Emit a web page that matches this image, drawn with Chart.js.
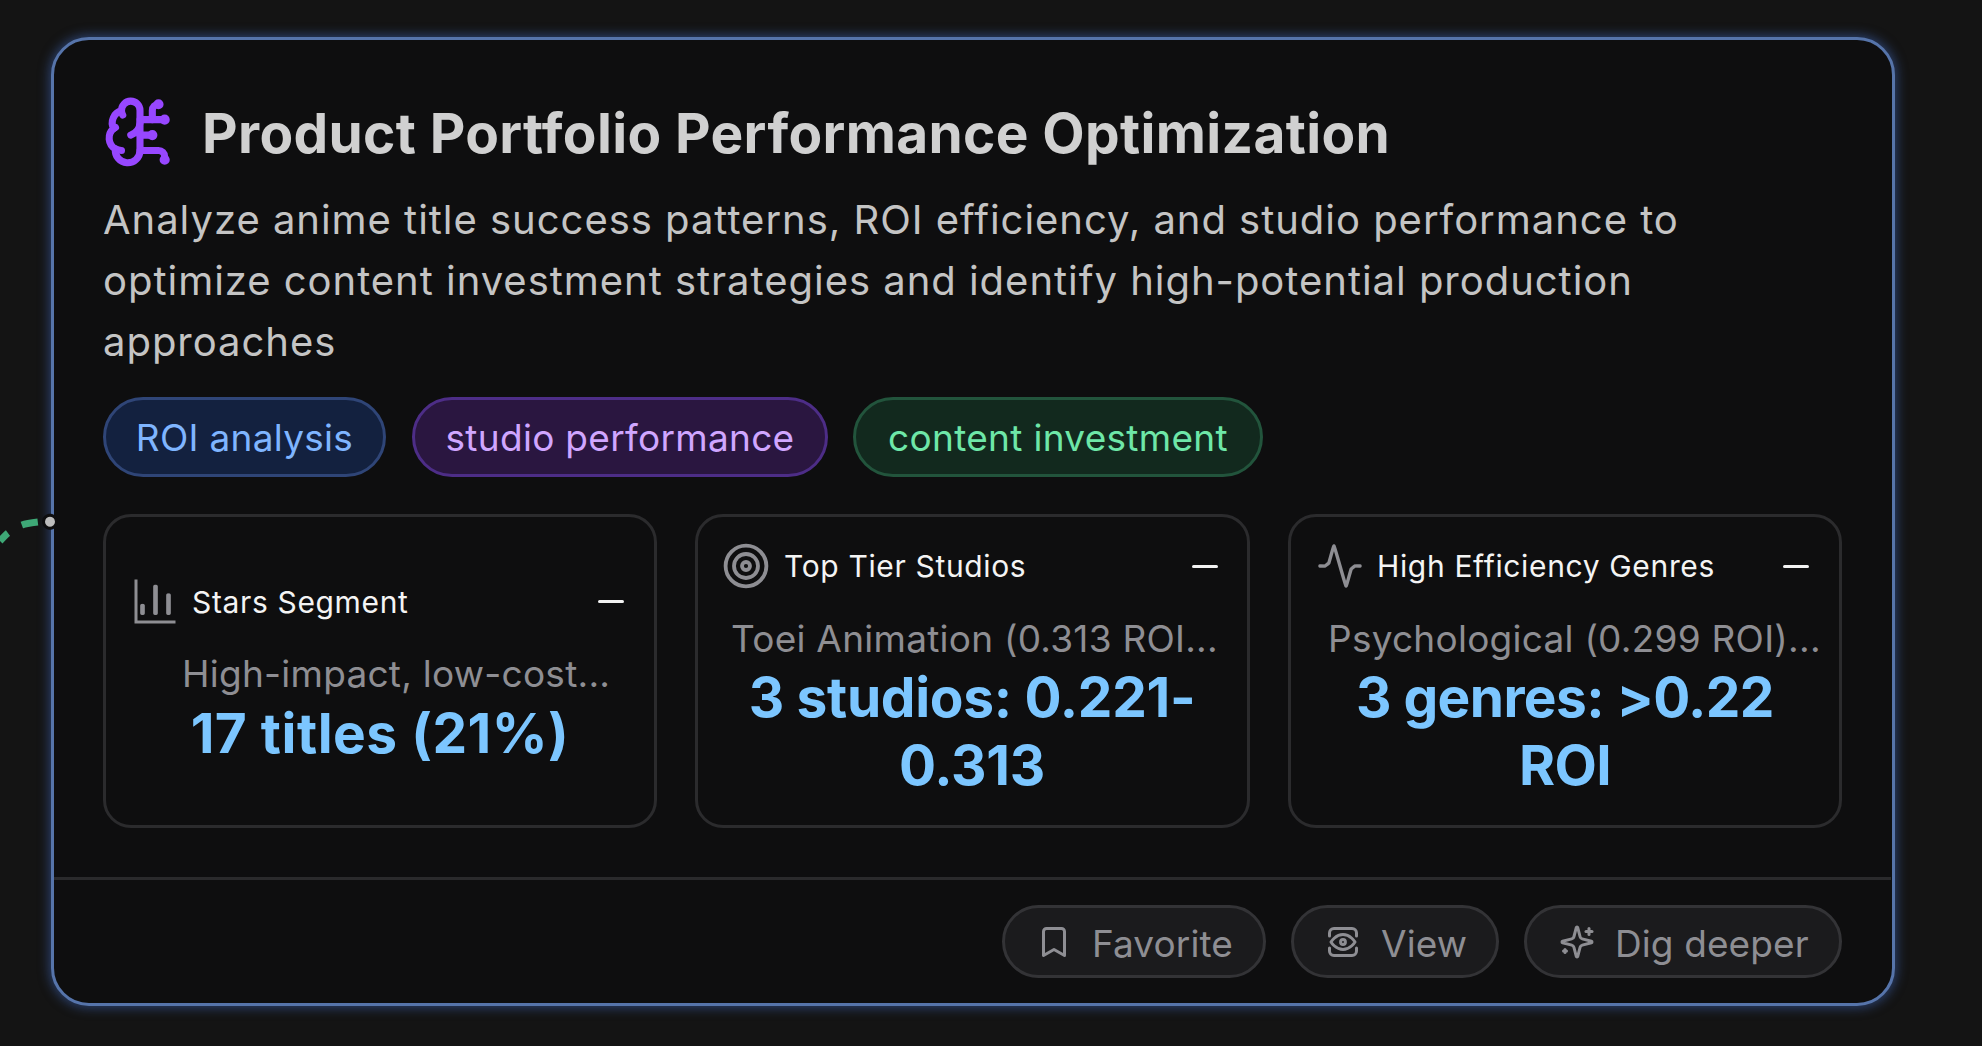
<!DOCTYPE html>
<html><head><meta charset="utf-8">
<script src="https://cdn.jsdelivr.net/npm/chart.js@4"></script>
<style>
html,body{margin:0;padding:0;width:1982px;height:1046px;background:#141414;overflow:hidden;font-family:Inter,sans-serif}
.a{position:absolute;white-space:nowrap}
#card{left:51px;top:37px;width:1844px;height:969px;box-sizing:border-box;border:3.5px solid #5674aa;border-radius:38px;background:#0e0e0f;box-shadow:0 0 11px 2px rgba(62,100,180,.55)}
#title{left:202px;top:100px;font-size:55px;line-height:66px;font-weight:700;color:#d0d0d0;letter-spacing:.35px}
#desc{left:103px;top:189px;width:1700px;font-size:40px;line-height:61px;color:#c4c4c4;white-space:pre-line;letter-spacing:.97px}
.tag{top:397px;height:80px;box-sizing:border-box;border-radius:40px;border:3px solid;font-size:37px;letter-spacing:.3px;display:flex;align-items:center;justify-content:center}
.kpi{top:514px;height:314px;box-sizing:border-box;border:3px solid #2b2b2d;border-radius:28px}
.kt{font-size:30px;line-height:36px;color:#f4f4f4;letter-spacing:.65px}
.kn{font-size:37px;line-height:46px;color:#8e8e93;letter-spacing:.25px}
.kv{font-size:55px;line-height:68px;font-weight:700;color:#7cc6ff;text-align:center;white-space:normal;width:490px}
.dash{width:26px;height:3px;background:#f2f2f2;border-radius:2px}
.btn{top:905px;height:73px;box-sizing:border-box;border:3px solid #333336;border-radius:37px;background:#1b1b1d}
.bt{top:921px;font-size:37px;line-height:46px;color:#8e8e93;letter-spacing:.1px}
svg.i{position:absolute;fill:none;stroke-linecap:round;stroke-linejoin:round}
canvas{position:absolute;display:block}
</style></head><body>
<div id="card" class="a"></div>
<svg class="i" style="left:103px;top:95px;stroke:#9747ff;stroke-width:2.3" width="74" height="74" viewBox="0 0 24 24"><path d="M12 5a3 3 0 1 0-5.997.125 4 4 0 0 0-2.526 5.77 4 4 0 0 0 .556 6.588A4 4 0 1 0 12 18Z"/><path d="M9 13a4.5 4.5 0 0 0 3-4"/><path d="M6.003 5.125A3 3 0 0 0 6.401 6.5"/><path d="M3.477 10.896a4 4 0 0 1 .585-.396"/><path d="M6 18a4 4 0 0 1-1.967-.516"/><path d="M12 13h4"/><path d="M12 18h6a2 2 0 0 1 2 2v1"/><path d="M12 8h8"/><path d="M16 8V5a2 2 0 0 1 2-2"/><circle cx="16" cy="13" r=".5"/><circle cx="18" cy="3" r=".5"/><circle cx="20" cy="21" r=".5"/><circle cx="20" cy="8" r=".5"/></svg>
<div id="title" class="a"></div>
<div id="desc" class="a"></div>
<div id="tag0" class="a tag" style="left:103px;width:283px;background:#13213f;border-color:#2f4577;color:#7fb5ff"></div>
<div id="tag1" class="a tag" style="left:412px;width:416px;background:#2a1640;border-color:#4d2d87;color:#d0a6ff"></div>
<div id="tag2" class="a tag" style="left:853px;width:410px;background:#12291e;border-color:#22543c;color:#6ee7a8"></div>

<div class="a kpi" style="left:103px;width:554px"></div>
<div class="a kpi" style="left:695px;width:555px"></div>
<div class="a kpi" style="left:1288px;width:554px"></div>

<canvas id="barIcon" style="left:130px;top:576px" width="50" height="50"></canvas>
<div id="kt0" class="a kt" style="left:192px;top:584px"></div>
<div class="a dash" style="left:598px;top:600px"></div>
<div id="kn0" class="a kn" style="left:182px;top:651px"></div>
<div id="kv0" class="a kv" style="left:135px;top:699px;letter-spacing:.5px"></div>

<svg class="i" style="left:722px;top:542px;stroke:#8e8e93;stroke-width:1.9" width="48" height="48" viewBox="0 0 24 24"><circle cx="12" cy="12" r="10.2"/><circle cx="12" cy="12" r="6"/><circle cx="12" cy="12" r="2"/></svg>
<div id="kt1" class="a kt" style="left:784px;top:548px"></div>
<div class="a dash" style="left:1192px;top:565px"></div>
<div id="kn1" class="a kn" style="left:731px;top:616px"></div>
<div id="kv1" class="a kv" style="left:727px;top:663px;letter-spacing:-.3px"></div>

<canvas id="pulseIcon" style="left:1312px;top:538px" width="56" height="56"></canvas>
<div id="kt2" class="a kt" style="left:1377px;top:548px"></div>
<div class="a dash" style="left:1783px;top:565px"></div>
<div id="kn2" class="a kn" style="left:1328px;top:616px"></div>
<div id="kv2" class="a kv" style="left:1320px;top:663px;letter-spacing:-.6px"></div>

<div class="a" style="left:54px;top:877px;width:1837px;height:3px;background:#2a2a2c"></div>

<div class="a btn" style="left:1002px;width:264px"></div>
<div class="a btn" style="left:1291px;width:208px"></div>
<div class="a btn" style="left:1524px;width:318px"></div>
<svg class="i" style="left:1035.5px;top:924px;stroke:#8e8e93;stroke-width:2" width="36" height="36" viewBox="0 0 24 24"><path d="m19 21-7-4-7 4V5a2 2 0 0 1 2-2h10a2 2 0 0 1 2 2v16z"/></svg>
<svg class="i" style="left:1325px;top:924px;stroke:#8e8e93;stroke-width:2" width="36" height="36" viewBox="0 0 24 24"><path d="M3 8V6a3 3 0 0 1 3-3h12a3 3 0 0 1 3 3v2"/><path d="M3 16v2a3 3 0 0 0 3 3h12a3 3 0 0 0 3-3v-2"/><path d="M4 12s3-5 8-5 8 5 8 5-3 5-8 5-8-5-8-5z"/><circle cx="12" cy="12" r="1.6"/></svg>
<svg class="i" style="left:1559px;top:924px;stroke:#8e8e93;stroke-width:2" width="36" height="36" viewBox="0 0 24 24"><path d="M9.937 15.5A2 2 0 0 0 8.5 14.063l-6.135-1.582a.5.5 0 0 1 0-.962L8.5 9.936A2 2 0 0 0 9.937 8.5l1.582-6.135a.5.5 0 0 1 .963 0L14.063 8.5A2 2 0 0 0 15.5 9.937l6.135 1.581a.5.5 0 0 1 0 .964L15.5 14.063a2 2 0 0 0-1.437 1.437l-1.582 6.135a.5.5 0 0 1-.963 0z"/><path d="M20 3v4"/><path d="M22 5h-4"/><path d="M4 17v2"/><path d="M5 18H3"/></svg>
<div id="bt0" class="a bt" style="left:1092px"></div>
<div id="bt1" class="a bt" style="left:1381px"></div>
<div id="bt2" class="a bt" style="left:1615px"></div>

<canvas id="edge" style="left:0;top:491px" width="70" height="70"></canvas>

<script>
// Text content
const chartTitle = "Product Portfolio Performance Optimization";
const chartDescription = "Analyze anime title success patterns, ROI efficiency, and studio performance to\noptimize content investment strategies and identify high-potential production\napproaches";
const tagLabels = ["ROI analysis", "studio performance", "content investment"];
const kpiTitles = ["Stars Segment", "Top Tier Studios", "High Efficiency Genres"];
const kpiNotes = ["High-impact, low-cost...", "Toei Animation (0.313 ROI...", "Psychological (0.299 ROI)..."];
const kpiValues = ["17 titles (21%)", "3 studios: 0.221-0.313", "3 genres: >0.22 ROI"];
const actionLabels = ["Favorite", "View", "Dig deeper"];

// Mark data
const barCategories = ["a", "b", "c"];
const barRanges = [[3.6, 8.7], [3.6, 18], [3.6, 13.8]];
const pulseX = [2, 4.5, 6.4, 9, 15, 17.6, 19.5, 22];
const pulseY = [12, 12, 10.5, 2, 22, 13.5, 12, 12];
const edgeX = [0, 8, 22, 38, 50];
const edgeY = [50, 42, 34, 31, 30.7];

const set = (id, t) => document.getElementById(id).textContent = t;
set("title", chartTitle); set("desc", chartDescription);
tagLabels.forEach((t, i) => set("tag" + i, t));
kpiTitles.forEach((t, i) => set("kt" + i, t));
kpiNotes.forEach((t, i) => set("kn" + i, t));
kpiValues.forEach((t, i) => set("kv" + i, t));
actionLabels.forEach((t, i) => set("bt" + i, t));

const base = {responsive:false, animation:false, devicePixelRatio:2,
  plugins:{legend:{display:false}, tooltip:{enabled:false}}, layout:{padding:0, autoPadding:false}};
const iconGrey = "#8e8e93";

new Chart(document.getElementById("barIcon"), {
  type:"bar",
  data:{labels:barCategories, datasets:[{data:barRanges, backgroundColor:iconGrey, borderRadius:3, borderSkipped:false, barThickness:4}]},
  options:{...base, layout:{autoPadding:false, padding:{left:6,top:5,right:5,bottom:4}},
    scales:{
      x:{grid:{display:false,drawTicks:false}, ticks:{display:false}, border:{color:iconGrey,width:3}},
      y:{min:0,max:20,grid:{display:false,drawTicks:false}, ticks:{display:false}, border:{color:iconGrey,width:3}}
    }}
});

new Chart(document.getElementById("pulseIcon"), {
  type:"line",
  data:{labels:pulseX, datasets:[{data:pulseX.map((x,i)=>({x,y:pulseY[i]})), borderColor:iconGrey, borderWidth:3.4, pointRadius:0, tension:0.08, borderCapStyle:"round", borderJoinStyle:"round"}]},
  options:{...base, scales:{
    x:{type:"linear",display:false,min:-2,max:26},
    y:{display:false,min:-2,max:26,reverse:true}}}
});

new Chart(document.getElementById("edge"), {
  type:"line",
  data:{labels:edgeX, datasets:[{data:edgeX.map((x,i)=>({x,y:edgeY[i]})), borderColor:"#3ea876", borderWidth:7,
    borderDash:[16.3,16], borderDashOffset:5, tension:.3, clip:false,
    pointRadius:[0,0,0,0,6.5], pointBackgroundColor:"#bdbdbd", pointBorderColor:"#0e0e0f", pointBorderWidth:3}]},
  options:{...base, scales:{
    x:{type:"linear",display:false,min:0,max:70},
    y:{display:false,min:0,max:70,reverse:true}}}
});
</script>
</body></html>
